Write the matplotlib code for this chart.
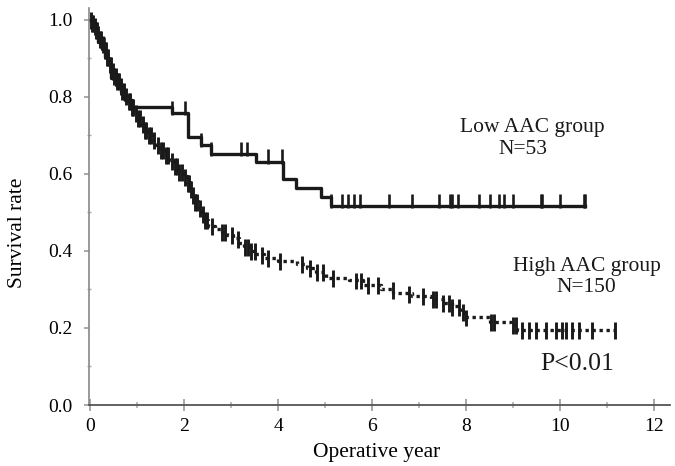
import numpy as np
import matplotlib
matplotlib.use('Agg')
import matplotlib.pyplot as plt
from matplotlib.ticker import MultipleLocator

plt.rcParams['font.family'] = ['Liberation Serif', 'DejaVu Serif']

# Low AAC group (N=53): step times and survival after each step
low_t = [0.00, 0.06, 0.12, 0.18, 0.25, 0.32, 0.38, 0.45, 0.55, 0.65, 0.75, 0.90,
         1.75, 2.09, 2.37, 2.58, 3.54, 4.11, 4.39, 4.92, 5.13, 10.54]
low_s = [1.000, 0.981, 0.962, 0.943, 0.924, 0.905, 0.886, 0.850, 0.831, 0.812, 0.793, 0.775,
         0.758, 0.697, 0.675, 0.652, 0.632, 0.586, 0.563, 0.541, 0.517, 0.517]
low_cens = [0.30, 0.60, 1.75, 2.02, 2.37, 2.58, 3.22, 3.34, 3.78, 4.08, 5.13, 5.36, 5.48,
            5.61, 5.75, 6.37, 6.85, 7.43, 7.66, 7.71, 7.82, 8.28, 8.51, 8.70, 8.80, 8.99,
            9.59, 9.62, 10.01, 10.52, 10.54]

# High AAC group (N=150)
high_t = [0.00, 0.04, 0.08, 0.12, 0.16, 0.20, 0.25, 0.30, 0.35, 0.40, 0.45, 0.50, 0.56,
          0.62, 0.68, 0.74, 0.80, 0.87, 0.94, 1.00, 1.08, 1.16, 1.24, 1.32, 1.40, 1.48,
          1.58, 1.68, 1.78, 1.88, 1.98, 2.06, 2.12, 2.18, 2.24, 2.30, 2.36, 2.44, 2.52,
          2.66, 2.80, 2.92, 3.04, 3.16, 3.28, 3.40, 3.52, 3.70, 4.00, 4.40, 4.62, 4.80,
          5.02, 5.50, 5.80, 6.20, 6.45, 6.84, 7.25, 7.50, 7.70, 7.88, 7.95, 8.50, 8.95,
          9.08, 11.18]
high_s = [1.000, 0.993, 0.986, 0.975, 0.963, 0.951, 0.938, 0.922, 0.905, 0.885, 0.869,
          0.856, 0.842, 0.829, 0.816, 0.803, 0.790, 0.775, 0.760, 0.745, 0.730, 0.716,
          0.702, 0.689, 0.676, 0.663, 0.649, 0.635, 0.621, 0.607, 0.594, 0.578, 0.561,
          0.545, 0.529, 0.513, 0.497, 0.481, 0.466, 0.458, 0.450, 0.441, 0.433, 0.422,
          0.412, 0.401, 0.391, 0.383, 0.375, 0.366, 0.356, 0.345, 0.330, 0.324, 0.312,
          0.300, 0.290, 0.283, 0.275, 0.265, 0.256, 0.242, 0.228, 0.216, 0.208, 0.195,
          0.195]
high_cens = [0.03, 0.05, 0.07, 0.10, 0.13, 0.15, 0.18, 0.22, 0.24, 0.27, 0.31, 0.33, 0.36,
             0.38, 0.42, 0.44, 0.48, 0.52, 0.55, 0.58, 0.61, 0.66, 0.69, 0.72, 0.77, 0.82,
             0.85, 0.89, 0.92, 0.97, 1.02, 1.06, 1.12, 1.16, 1.20, 1.26, 1.30, 1.36, 1.44,
             1.50, 1.55, 1.62, 1.66, 1.74, 1.80, 1.86, 1.90, 1.95, 2.02, 2.08, 2.10, 2.15,
             2.20, 2.24, 2.28, 2.33, 2.40, 2.44, 2.48, 2.59, 2.80, 2.87, 3.01, 3.15, 3.29,
             3.36, 3.43, 3.50, 3.65, 3.79, 4.04, 4.50, 4.68, 4.82, 4.96, 5.17, 5.66, 5.77,
             5.91, 6.12, 6.44, 6.79, 7.08, 7.29, 7.36, 7.50, 7.64, 7.71, 7.86, 7.93, 8.00,
             8.53, 8.60, 8.99, 9.06, 9.20, 9.34, 9.48, 9.70, 9.91, 10.05, 10.12, 10.26,
             10.40, 10.69, 11.18]


def surv_at(t, s, c):
    i = np.searchsorted(t, c, side='right') - 1
    return np.asarray(s)[i]


fig = plt.figure(figsize=(6.75, 4.66), dpi=100)
ax = fig.add_axes([0.1313, 0.1309, 0.9933 - 0.1313, 0.982 - 0.1309])

ax.step(low_t, low_s, where='post', color='#1a1a1a', lw=2.4)
ls = surv_at(low_t, low_s, low_cens)
ax.vlines(low_cens, ls - 0.006, ls + 0.032, color='#1a1a1a', lw=1.9)

ax.step(high_t, high_s, where='post', color='#1a1a1a', lw=2.4,
        linestyle=(0, (1, 1.1)), dash_capstyle='butt')
hs = surv_at(high_t, high_s, high_cens)
ax.vlines(high_cens, hs - 0.024, hs + 0.02, color='#1a1a1a', lw=2.1)

ax.set_xlim(-0.03, 12.35)
ax.set_ylim(0, 1.03)
ax.xaxis.set_major_locator(MultipleLocator(2))
ax.xaxis.set_minor_locator(MultipleLocator(1))
ax.yaxis.set_major_locator(MultipleLocator(0.2))
ax.yaxis.set_minor_locator(MultipleLocator(0.1))
ax.set_yticklabels([f'{v:.1f}' for v in ax.get_yticks()])

for side in ['top', 'right']:
    ax.spines[side].set_visible(False)
ax.spines['left'].set_color('#888888')
ax.spines['left'].set_linewidth(1.2)
ax.spines['bottom'].set_color('#555555')
ax.spines['bottom'].set_linewidth(1.3)

ax.tick_params(axis='x', which='major', direction='inout', length=8, width=1.2,
               color='#999999', labelsize=14, pad=5)
ax.tick_params(axis='x', which='minor', direction='inout', length=5, width=1.1,
               color='#aaaaaa')
ax.tick_params(axis='y', which='major', direction='out', length=3.5, width=1.2,
               color='#999999', labelsize=14, pad=8)
ax.tick_params(axis='y', which='minor', direction='inout', length=3, width=1.0,
               color='#aaaaaa')

fig.text(18 / 675, 1 - 233 / 466, 'Survival rate', rotation=90, ha='center',
         va='center', fontsize=15.5)
fig.text(377 / 675, 1 - 452 / 466, 'Operative year', ha='center', va='center',
         fontsize=15.5)

fig.text(532 / 675, 1 - 127 / 466, 'Low AAC group', ha='center', va='center',
         fontsize=15.5, color='#1a1a1a')
fig.text(523 / 675, 1 - 149 / 466, 'N=53', ha='center', va='center',
         fontsize=15.5, color='#1a1a1a')
fig.text(587 / 675, 1 - 266 / 466, 'High AAC group', ha='center', va='center',
         fontsize=15.5, color='#1a1a1a')
fig.text(586 / 675, 1 - 288 / 466, 'N=150', ha='center', va='center',
         fontsize=15.5, color='#1a1a1a')
fig.text(577 / 675, 1 - 364 / 466, 'P<0.01', ha='center', va='center',
         fontsize=18.5, color='#1a1a1a')

fig.savefig('out.png', dpi=100)
